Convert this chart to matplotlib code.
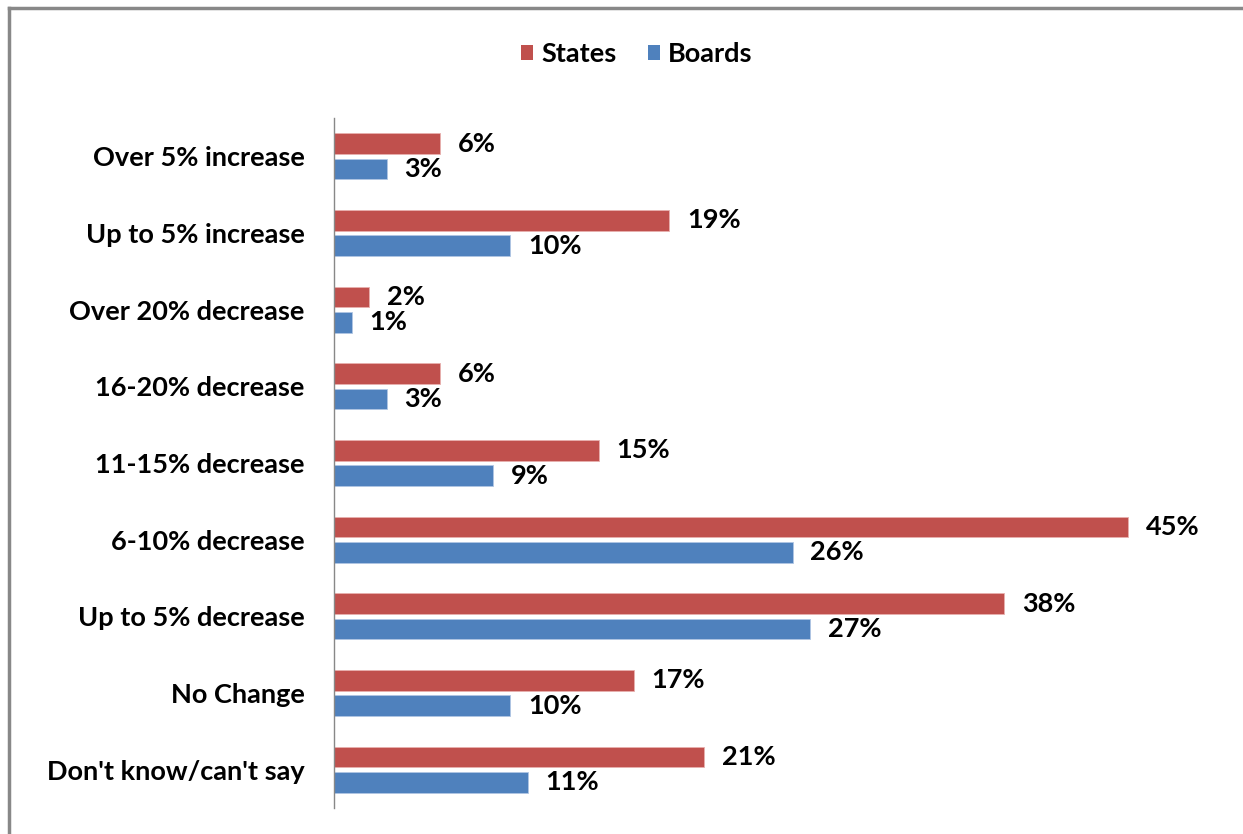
import matplotlib.pyplot as plt
import numpy as np
from matplotlib.lines import Line2D
from matplotlib.patches import Patch

# データ
categories = ["Over 5% increase", "Up to 5% increase", "Over 20% decrease",
              "16-20% decrease", "11-15% decrease", "6-10% decrease",
              "Up to 5% decrease", "No Change", "Don't know/can't say"]
states = [6, 19, 2, 6, 15, 45, 38, 17, 21]
boards = [3, 10, 1, 3, 9, 26, 27, 10, 11]

RED = "#C0504D"
BLUE = "#4F81BD"
FS = 19.5

plt.rcParams['font.family'] = ['Lato', 'DejaVu Sans']

fig = plt.figure(figsize=(12.43, 8.34), dpi=100)
W, H = 1243, 834
ax = fig.add_axes([334 / W, 1 - 808 / H, (1216 - 334) / W, (808 - 118) / H])

y = np.arange(len(categories))
h = 0.27
off = 0.165
ax.barh(y - off, states, height=h, color=RED, edgecolor="#E8B0AE", linewidth=0.6)
ax.barh(y + off, boards, height=h, color=BLUE, edgecolor="#B0C6E4", linewidth=0.6)

for yi, s, b in zip(y, states, boards):
    ax.text(s + 1.0, yi - off, f"{s}%", va="center", ha="left", fontsize=FS, fontweight="bold")
    ax.text(b + 1.0, yi + off, f"{b}%", va="center", ha="left", fontsize=FS, fontweight="bold")

ax.set_xlim(0, 50)
ax.set_ylim(len(categories) - 0.5, -0.5)
ax.set_yticks(y)
ax.set_yticklabels(categories, fontsize=FS, fontweight="bold")
ax.tick_params(axis="y", length=0, pad=21)
ax.set_xticks([])
for side in ["top", "right", "bottom"]:
    ax.spines[side].set_visible(False)
ax.spines["left"].set_color("#888888")
ax.spines["left"].set_linewidth(1.0)

# 凡例
handles = [Patch(facecolor=RED, label="States"), Patch(facecolor=BLUE, label="Boards")]
leg = fig.legend(handles=handles, loc="center", bbox_to_anchor=(637 / W, 1 - 54 / H),
                 ncol=2, frameon=False, handlelength=0.45, handleheight=0.45,
                 handletextpad=0.3, columnspacing=1.15,
                 prop={"size": FS, "weight": "bold"})

# 外枠（上と左）
fig.add_artist(Line2D([9 / W, 9 / W], [0, 1 - 8 / H], color="#888888", lw=2.5))
fig.add_artist(Line2D([9 / W, 1], [1 - 8 / H, 1 - 8 / H], color="#888888", lw=2.5))

fig.savefig("out.png", dpi=100)
